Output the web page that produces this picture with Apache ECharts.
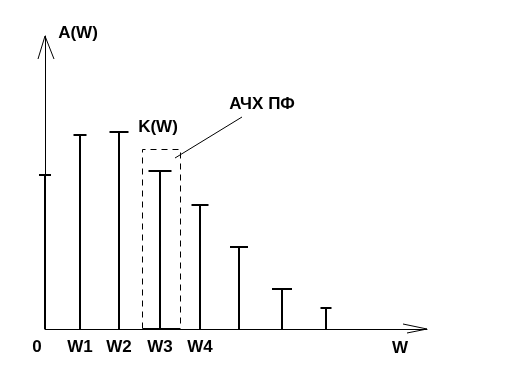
<!DOCTYPE html>
<html>
<head>
<meta charset="utf-8">
<script src="https://cdn.jsdelivr.net/npm/echarts@6/dist/echarts.min.js"></script>
<style>html,body{margin:0;padding:0;background:#fff}#c{width:512px;height:384px}</style>
</head>
<body>
<div id="c"></div>
<script>
// Frequencies (arbitrary units) of spectral lines and their amplitudes
var freqs = [0, 3.5, 7.4, 11.5, 15.5, 19.4, 23.7, 28.1];
var amps = [15.4, 19.4, 19.7, 15.8, 12.4, 8.2, 4.0, 2.1];
// Tick labels on the frequency axis
var tickValues = [0, 3.5, 7.4, 11.5, 15.5];
var tickLabels = ['0', 'W1', 'W2', 'W3', 'W4'];
// Axis ranges
var xMax = 38.2, yMax = 29.3;
// Band-pass filter window (АЧХ ПФ) around W3, in data units
var filterX0 = 9.7, filterX1 = 13.5, filterTop = 18.0;

var FONT = '"Liberation Sans", Arial, sans-serif';
var FS = 17;
var capPx = [12, 13, 19, 23, 17, 18, 20, 11];

var chart = echarts.init(document.getElementById('c'), null, {renderer: 'canvas'});

var stemData = freqs.map(function (f, i) { return [f, amps[i]]; });

chart.setOption({
  animation: false,
  backgroundColor: '#fff',
  grid: {left: 45, right: 85, top: 36, bottom: 55, containLabel: false},
  xAxis: {
    type: 'value', min: 0, max: xMax,
    splitLine: {show: false},
    axisTick: {show: false},
    axisLine: {show: true, lineStyle: {color: '#000', width: 1}},
    axisLabel: {
      customValues: tickValues,
      margin: 10,
      color: '#000',
      fontFamily: FONT, fontSize: FS, fontWeight: 'bold',
      formatter: function (v) {
        var i = tickValues.indexOf(v);
        if (i === 0) return '{z|' + tickLabels[0] + '}';
        return i >= 0 ? tickLabels[i] : '';
      },
      rich: {z: {padding: [0, 16, 0, 0], fontFamily: FONT, fontSize: FS, fontWeight: 'bold', color: '#000'}}
    }
  },
  yAxis: {
    type: 'value', min: 0, max: yMax,
    splitLine: {show: false},
    axisTick: {show: false},
    axisLabel: {show: false},
    axisLine: {show: true, lineStyle: {color: '#000', width: 1}}
  },
  series: [{
    type: 'custom',
    data: stemData,
    renderItem: function (params, api) {
      var x = api.value(0), y = api.value(1);
      var p0 = api.coord([x, 0]);
      var p1 = api.coord([x, y]);
      var hw = capPx[params.dataIndex] / 2;
      return {
        type: 'group',
        children: [
          {type: 'line', shape: {x1: p0[0], y1: p0[1], x2: p1[0], y2: p1[1]},
           style: {stroke: '#000', lineWidth: 2}},
          {type: 'line', shape: {x1: p1[0] - hw, y1: p1[1], x2: p1[0] + hw, y2: p1[1]},
           style: {stroke: '#000', lineWidth: 2}}
        ]
      };
    },
    z: 3
  }]
});

function px(v) { return chart.convertToPixel({gridIndex: 0}, v); }
var yTip = px([0, yMax]);
var xTip = px([xMax, 0]);
var b0 = px([filterX0, 0]);
var b1 = px([filterX1, filterTop]);
var lead0 = px([13.0, 17.1]);
var lead1 = px([19.7, 21.2]);
var kPos = px([11.3, 20.2]);
var achPos = px([21.7, 22.5]);
var aPos = px([3.3, 29.6]);
var wPos = px([35.5, -1.9]);

var txt = function (x, y, s) {
  return {type: 'text', x: x, y: y, style: {text: s, fill: '#000', font: 'bold ' + FS + 'px ' + FONT, align: 'center', verticalAlign: 'middle'}, z: 10};
};
var rx0 = Math.round(b0[0]) + 0.5, rx1 = Math.round(b1[0]) + 0.5;
var ry0 = Math.round(b1[1]) + 0.5, ry1 = Math.round(b0[1]) - 0.5;

chart.setOption({
  graphic: [
    {type: 'polyline', shape: {points: [[yTip[0] - 7, yTip[1] + 23], [yTip[0], yTip[1]], [yTip[0] + 9, yTip[1] + 23]]},
     style: {stroke: '#000', lineWidth: 1, fill: null}, z: 10},
    {type: 'polyline', shape: {points: [[xTip[0] - 24, xTip[1] - 5], [xTip[0], xTip[1]], [xTip[0] - 20, xTip[1] + 4]]},
     style: {stroke: '#000', lineWidth: 1, fill: null}, z: 10},
    {type: 'polyline', shape: {points: [[rx0, ry1], [rx0, ry0], [rx1, ry0], [rx1, ry1]]},
     style: {stroke: '#000', lineWidth: 1, fill: null, lineDash: [6, 5]}, z: 10},
    {type: 'line', shape: {x1: rx0, y1: ry1, x2: rx1, y2: ry1},
     style: {stroke: '#000', lineWidth: 1}, z: 10},
    {type: 'line', shape: {x1: lead0[0], y1: lead0[1], x2: lead1[0], y2: lead1[1]},
     style: {stroke: '#000', lineWidth: 1}, z: 10},
    txt(kPos[0], kPos[1], 'K(W)'),
    txt(achPos[0], achPos[1], 'АЧХ ПФ'),
    txt(aPos[0], aPos[1], 'A(W)'),
    txt(wPos[0], wPos[1], 'W')
  ]
});
</script>
</body>
</html>
